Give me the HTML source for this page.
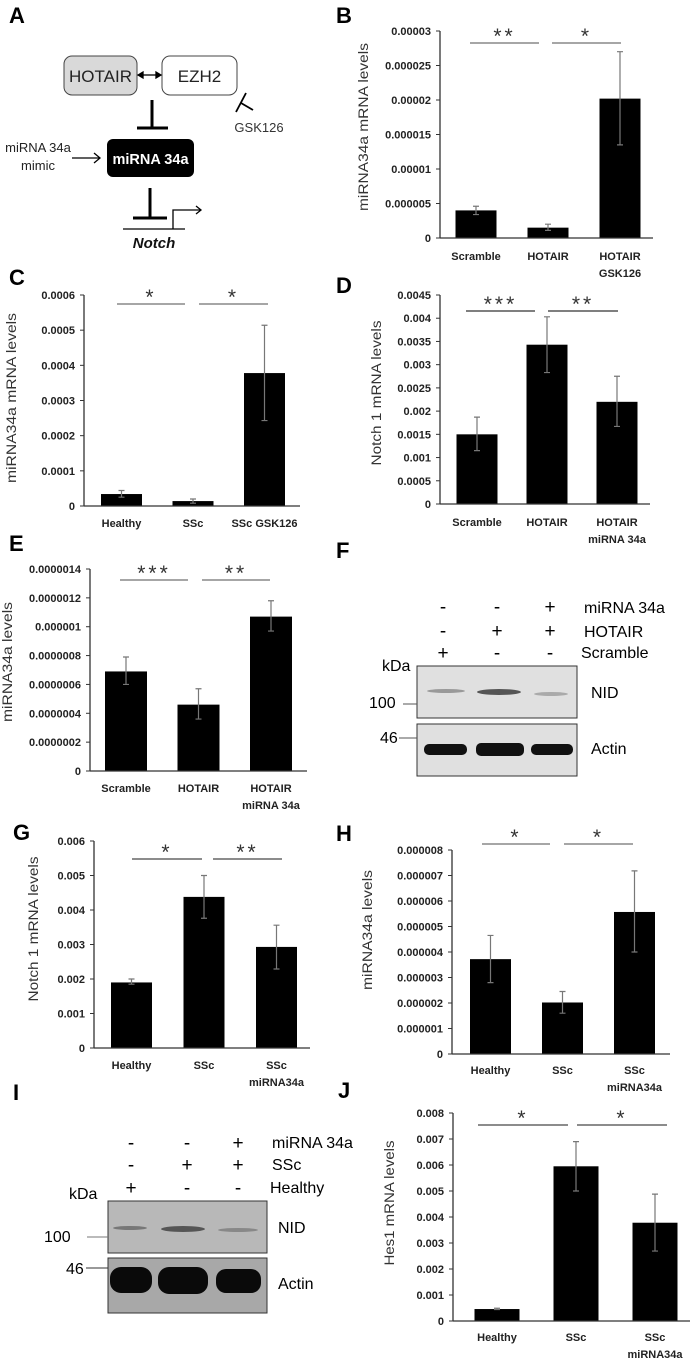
<!DOCTYPE html>
<html><head><meta charset="utf-8">
<style>
html,body{margin:0;padding:0;background:#fff;}
svg{display:block;font-family:"Liberation Sans",sans-serif;}
.tick{font-size:11px;font-weight:bold;fill:#222;}
.xl{font-size:11px;font-weight:bold;fill:#222;}
.yt{font-size:13.5px;fill:#333;}
.pl{font-size:22px;font-weight:bold;fill:#000;}
.blot{font-size:16px;fill:#000;}
.sgn{font-size:19px;fill:#000;}
</style></head>
<body>
<svg id="fig" width="694" height="1360" viewBox="0 0 694 1360" xmlns="http://www.w3.org/2000/svg">
<g>
<text class="pl" x="9" y="23">A</text>
<rect x="64" y="56" width="73" height="39" rx="8" fill="#d9d9d9" stroke="#444" stroke-width="1"/>
<text x="100.5" y="82" font-size="17" text-anchor="middle" fill="#222">HOTAIR</text>
<rect x="162" y="56" width="75" height="39" rx="8" fill="#fff" stroke="#444" stroke-width="1"/>
<text x="199.5" y="82" font-size="17" text-anchor="middle" fill="#222">EZH2</text>
<g stroke="#000" stroke-width="1.3" fill="#000">
<line x1="142" y1="75" x2="157" y2="75"/>
<polygon points="138,75 143,72 143,78"/><polygon points="161,75 156,72 156,78"/>
</g>
<g stroke="#000" stroke-width="3">
<line x1="152" y1="100" x2="152" y2="128"/><line x1="137" y1="128" x2="168" y2="128"/>
</g>
<g stroke="#000" stroke-width="1.8" fill="none">
<line x1="236" y1="112" x2="246" y2="93"/><line x1="241" y1="103" x2="253" y2="110"/>
</g>
<text x="259" y="132" font-size="13" text-anchor="middle" fill="#333">GSK126</text>
<text x="38" y="152" font-size="13" text-anchor="middle" fill="#222">miRNA 34a</text>
<text x="38" y="170" font-size="13" text-anchor="middle" fill="#222">mimic</text>
<g stroke="#000" stroke-width="1.3" fill="none">
<line x1="72" y1="158" x2="100" y2="158"/><polyline points="94,153 100,158 94,163"/>
</g>
<rect x="107" y="139" width="87" height="38" rx="6" fill="#000"/>
<text x="150.5" y="164" font-size="14.5" font-weight="bold" text-anchor="middle" fill="#fff">miRNA 34a</text>
<g stroke="#000" stroke-width="3">
<line x1="150" y1="188" x2="150" y2="218"/><line x1="133" y1="218" x2="167" y2="218"/>
</g>
<g stroke="#000" stroke-width="1.3" fill="none">
<line x1="123" y1="229" x2="185" y2="229"/>
<polyline points="173,229 173,210 201,210"/><polyline points="196,206 201,210 196,214"/>
</g>
<text x="154" y="248" font-size="15" font-weight="bold" font-style="italic" text-anchor="middle" fill="#111">Notch</text>
</g>

<g>
<text class="pl" x="336" y="558">F</text>
<g class="sgn" text-anchor="middle">
<text x="443" y="613">-</text><text x="497" y="613">-</text><text x="550" y="613">+</text>
<text x="443" y="637">-</text><text x="497" y="637">+</text><text x="550" y="637">+</text>
<text x="443" y="659">+</text><text x="497" y="659">-</text><text x="550" y="659">-</text>
</g>
<text class="blot" x="584" y="613">miRNA 34a</text>
<text class="blot" x="584" y="637">HOTAIR</text>
<text class="blot" x="581" y="658">Scramble</text>
<text class="blot" x="382" y="671">kDa</text>
<rect x="417" y="666" width="160" height="52" fill="#e0e0e0" stroke="#333" stroke-width="1"/>
<rect x="417" y="724" width="160" height="52" fill="#e0e0e0" stroke="#333" stroke-width="1"/>
<ellipse cx="446" cy="691" rx="19" ry="2" fill="#999"/>
<ellipse cx="499" cy="692" rx="22" ry="3" fill="#555"/>
<ellipse cx="551" cy="694" rx="17" ry="2" fill="#aaa"/>
<rect x="424" y="744" width="43" height="11" rx="5" fill="#111"/>
<rect x="476" y="743" width="48" height="13" rx="5" fill="#111"/>
<rect x="531" y="744" width="42" height="11" rx="5" fill="#111"/>
<text class="blot" x="369" y="708">100</text>
<line x1="403" y1="704" x2="417" y2="704" stroke="#555"/>
<text class="blot" x="380" y="743">46</text>
<line x1="399" y1="738" x2="417" y2="738" stroke="#555"/>
<text class="blot" x="591" y="698">NID</text>
<text class="blot" x="591" y="754">Actin</text>
</g>

<g>
<text class="pl" x="13" y="1100">I</text>
<g class="sgn" text-anchor="middle">
<text x="131" y="1149">-</text><text x="187" y="1149">-</text><text x="238" y="1149">+</text>
<text x="131" y="1171">-</text><text x="187" y="1171">+</text><text x="238" y="1171">+</text>
<text x="131" y="1194">+</text><text x="187" y="1194">-</text><text x="238" y="1194">-</text>
</g>
<text class="blot" x="272" y="1148">miRNA 34a</text>
<text class="blot" x="272" y="1170">SSc</text>
<text class="blot" x="270" y="1193">Healthy</text>
<text class="blot" x="69" y="1199">kDa</text>
<rect x="108" y="1201" width="159" height="52" fill="#b8b8b8" stroke="#333" stroke-width="1"/>
<rect x="108" y="1258" width="159" height="55" fill="#a8a8a8" stroke="#333" stroke-width="1"/>
<ellipse cx="130" cy="1228" rx="17" ry="2" fill="#777"/>
<ellipse cx="183" cy="1229" rx="22" ry="3" fill="#555"/>
<ellipse cx="238" cy="1230" rx="20" ry="2" fill="#888"/>
<rect x="110" y="1267" width="42" height="26" rx="11" fill="#0a0a0a"/>
<rect x="158" y="1267" width="50" height="27" rx="11" fill="#0a0a0a"/>
<rect x="216" y="1269" width="45" height="24" rx="10" fill="#0a0a0a"/>
<text class="blot" x="44" y="1242">100</text>
<line x1="87" y1="1237" x2="108" y2="1237" stroke="#777"/>
<text class="blot" x="66" y="1274">46</text>
<line x1="86" y1="1268" x2="108" y2="1268" stroke="#333"/>
<text class="blot" x="278" y="1233">NID</text>
<text class="blot" x="278" y="1289">Actin</text>
</g>
<g id="charts"></g>
</svg>
<script>
const bCategories = [["Scramble"],["HOTAIR"],["HOTAIR","GSK126"]];
const bValues = [0.000004, 0.0000015, 0.0000202];
const bErrLow = [0.0000034, 0.0000011, 0.0000135];
const bErrHigh = [0.0000046, 0.000002, 0.000027];
const bTicks = ["0","0.000005","0.00001","0.000015","0.00002","0.000025","0.00003"];
const bSig = ["**","*"];

const cCategories = [["Healthy"],["SSc"],["SSc GSK126"]];
const cValues = [0.000034, 0.000014, 0.000378];
const cErrLow = [0.000025, 0.000008, 0.000243];
const cErrHigh = [0.000044, 0.00002, 0.000514];
const cTicks = ["0","0.0001","0.0002","0.0003","0.0004","0.0005","0.0006"];
const cSig = ["*","*"];

const dCategories = [["Scramble"],["HOTAIR"],["HOTAIR","miRNA 34a"]];
const dValues = [0.0015, 0.00343, 0.0022];
const dErrLow = [0.00115, 0.00283, 0.00167];
const dErrHigh = [0.00187, 0.00403, 0.00275];
const dTicks = ["0","0.0005","0.001","0.0015","0.002","0.0025","0.003","0.0035","0.004","0.0045"];
const dSig = ["***","**"];

const eCategories = [["Scramble"],["HOTAIR"],["HOTAIR","miRNA 34a"]];
const eValues = [0.00000069, 0.00000046, 0.00000107];
const eErrLow = [0.0000006, 0.00000036, 0.00000097];
const eErrHigh = [0.00000079, 0.00000057, 0.00000118];
const eTicks = ["0","0.0000002","0.0000004","0.0000006","0.0000008","0.000001","0.0000012","0.0000014"];
const eSig = ["***","**"];

const gCategories = [["Healthy"],["SSc"],["SSc","miRNA34a"]];
const gValues = [0.0019, 0.00438, 0.00293];
const gErrLow = [0.00185, 0.00376, 0.00229];
const gErrHigh = [0.002, 0.005, 0.00356];
const gTicks = ["0","0.001","0.002","0.003","0.004","0.005","0.006"];
const gSig = ["*","**"];

const hCategories = [["Healthy"],["SSc"],["SSc","miRNA34a"]];
const hValues = [0.00000372, 0.00000202, 0.00000557];
const hErrLow = [0.0000028, 0.0000016, 0.000004];
const hErrHigh = [0.00000465, 0.00000245, 0.00000718];
const hTicks = ["0","0.000001","0.000002","0.000003","0.000004","0.000005","0.000006","0.000007","0.000008"];
const hSig = ["*","*"];

const jCategories = [["Healthy"],["SSc"],["SSc","miRNA34a"]];
const jValues = [0.00046, 0.00595, 0.00378];
const jErrLow = [0.00044, 0.005, 0.00269];
const jErrHigh = [0.00049, 0.0069, 0.00488];
const jTicks = ["0","0.001","0.002","0.003","0.004","0.005","0.006","0.007","0.008"];
const jSig = ["*","*"];

const NS = "http://www.w3.org/2000/svg";
const root = document.getElementById("charts");
function mk(tag, attrs, parent){
  const e = document.createElementNS(NS, tag);
  for (const k in attrs) e.setAttribute(k, attrs[k]);
  parent.appendChild(e);
  return e;
}
function drawChart(id, L, cats, vals, lo, hi, ticks, sig){
  const g = mk("g", {}, root);
  
  
  const ymax = parseFloat(ticks[ticks.length-1]);
  const y = v => L.bot - (v / ymax) * (L.bot - L.top);
  const xc = i => L.c0 + i * L.step;
  const lab = mk("text", {x: L.lx, y: L.ly, class: "pl"}, g);
  lab.textContent = id.toUpperCase();
  
  
  vals.forEach((v, i) => {
    const r = mk("rect", {x: xc(i) - L.bw/2, y: y(v), width: L.bw, height: L.bot - y(v), fill: "#000"}, g);
    
    
    const eb = mk("path", {d: `M${xc(i)},${y(lo[i])}V${y(hi[i])}M${xc(i)-3},${y(lo[i])}h6M${xc(i)-3},${y(hi[i])}h6`, stroke: "#777", "stroke-width": 1.2, fill: "none"}, g);
    
    
  });
  const ya = mk("line", {x1: L.ax, y1: L.top, x2: L.ax, y2: L.bot, stroke: "#333", "stroke-width": 1.3}, g);
  
  
  const xa = mk("line", {x1: L.ax, y1: L.bot, x2: L.xe, y2: L.bot, stroke: "#333", "stroke-width": 1.3}, g);
  
  
  ticks.forEach((t) => {
    const ty = y(parseFloat(t));
    const tm = mk("line", {x1: L.ax - 4, y1: ty, x2: L.ax, y2: ty, stroke: "#333", "stroke-width": 1}, g);
    
    
    const tl = mk("text", {x: L.ax - 9, y: ty + 4, class: "tick", "text-anchor": "end"}, g);
    tl.textContent = t;
    
    
  });
  cats.forEach((c, i) => {
    c.forEach((line, k) => {
      const t = mk("text", {x: xc(i), y: L.xly + k * 17, class: "xl", "text-anchor": "middle"}, g);
      t.textContent = line;
      
      
    });
  });
  const tt = mk("text", {x: 0, y: 0, class: "yt", "text-anchor": "middle", transform: `translate(${L.tx},${L.ty}) rotate(-90)`, textLength: L.tl, lengthAdjust: "spacingAndGlyphs"}, g);
  tt.textContent = L.title;
  
  
  L.sl.forEach((s, k) => {
    const ln = mk("line", {x1: s[0], y1: L.sy, x2: s[1], y2: L.sy, stroke: L.sc || "#888", "stroke-width": 1.5}, g);
    
    
    const st = mk("text", {x: (s[0]+s[1])/2, y: L.sy, "font-size": 21, "text-anchor": "middle", "letter-spacing": 3, fill: "#333"}, g);
    st.textContent = sig[k];
    
    
  });
}
drawChart("b", {lx:336,ly:23,ax:440,top:31,bot:238,xe:653,c0:476,step:72,bw:41,xly:260,tx:368,ty:127,tl:168,title:"miRNA34a  mRNA levels",sl:[[470,539],[552,621]],sy:43}, bCategories,bValues,bErrLow,bErrHigh,bTicks,bSig);
drawChart("c", {lx:9,ly:285,ax:84,top:295,bot:506,xe:300,c0:121.5,step:71.5,bw:41,xly:527,tx:16,ty:398,tl:170,title:"miRNA34a  mRNA levels",sl:[[117,185],[199,268]],sy:304}, cCategories,cValues,cErrLow,cErrHigh,cTicks,cSig);
drawChart("d", {lx:336,ly:293,ax:440,top:295,bot:504,xe:650,c0:477,step:70,bw:41,xly:526,tx:381,ty:393,tl:145,title:"Notch 1 mRNA levels",sl:[[466,535],[548,618]],sy:311,sc:"#555"}, dCategories,dValues,dErrLow,dErrHigh,dTicks,dSig);
drawChart("e", {lx:9,ly:551,ax:90,top:569,bot:771,xe:307,c0:126,step:72.5,bw:42,xly:792,tx:12,ty:662,tl:120,title:"miRNA34a levels",sl:[[120,188],[202,270]],sy:580}, eCategories,eValues,eErrLow,eErrHigh,eTicks,eSig);
drawChart("g", {lx:13,ly:840,ax:94,top:841,bot:1048,xe:310,c0:131.5,step:72.5,bw:41,xly:1069,tx:38,ty:929,tl:145,title:"Notch 1 mRNA levels",sl:[[132,202],[213,282]],sy:859,sc:"#666"}, gCategories,gValues,gErrLow,gErrHigh,gTicks,gSig);
drawChart("h", {lx:336,ly:841,ax:452,top:850,bot:1054,xe:670,c0:490.5,step:72,bw:41,xly:1074,tx:372,ty:930,tl:120,title:"miRNA34a levels",sl:[[482,550],[564,633]],sy:844}, hCategories,hValues,hErrLow,hErrHigh,hTicks,hSig);
drawChart("j", {lx:338,ly:1098,ax:453,top:1113,bot:1321,xe:690,c0:497,step:79,bw:45,xly:1341,tx:394,ty:1203,tl:125,title:"Hes1 mRNA levels",sl:[[478,568],[577,667]],sy:1125,sc:"#666"}, jCategories,jValues,jErrLow,jErrHigh,jTicks,jSig);
</script>
</body></html>
